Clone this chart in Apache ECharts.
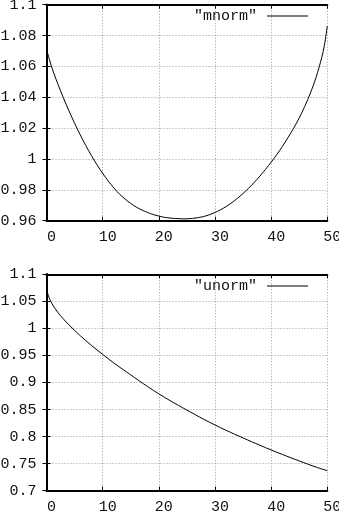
<!DOCTYPE html>
<html>
<head>
<meta charset="utf-8">
<script src="https://cdn.jsdelivr.net/npm/echarts@6/dist/echarts.min.js"></script>
<style>
html,body{margin:0;padding:0;background:#fff;}
#c{width:339px;height:521px;}
</style>
</head>
<body>
<div id="c"></div>
<script>
// Top plot: "mnorm"
var mnormX = [0, 1, 2, 3, 4, 5, 6, 7, 8, 9, 10, 11, 12, 13, 14, 15, 16, 17, 18, 19, 20, 21, 22, 23, 24.5, 26, 28, 30, 32, 34, 36, 38, 40, 42, 44, 45, 46, 47, 48, 49, 49.5, 50];
var mnormY = [1.0710, 1.0588, 1.0488, 1.0397, 1.0312, 1.0232, 1.0157, 1.0087, 1.0022, 0.9962, 0.9907, 0.9857, 0.9812, 0.9772, 0.9740, 0.9712, 0.9688, 0.9669, 0.9653, 0.9640, 0.9630, 0.9622, 0.9617, 0.9614, 0.9612, 0.9615, 0.9627, 0.9653, 0.9692, 0.9745, 0.9811, 0.9889, 0.9979, 1.0081, 1.0199, 1.0266, 1.0342, 1.0428, 1.0529, 1.0656, 1.0740, 1.0862];
// Bottom plot: "unorm"
var unormX = [0, 0.5, 1, 2, 3, 4, 6, 8, 10, 12, 15, 18, 20, 22, 25, 28, 30, 32, 35, 38, 40, 42, 45, 48, 50];
var unormY = [1.072, 1.056, 1.0452, 1.0297, 1.0175, 1.0065, 0.9866, 0.9686, 0.9520, 0.9360, 0.9140, 0.8925, 0.8790, 0.8665, 0.8490, 0.8320, 0.8215, 0.8115, 0.7975, 0.7840, 0.7753, 0.7670, 0.7550, 0.7436, 0.7370];
var xTicks = [0, 10, 20, 30, 40, 50];
var topY = {min: 0.96, max: 1.1, step: 0.02};
var botY = {min: 0.7, max: 1.1, step: 0.05};

function pairs(xs, ys){ return xs.map(function(x,i){ return [x, ys[i]]; }); }

var FONT = 'Liberation Mono';
var FS = 15;
var lbl = {color:'#111', fontFamily: FONT, fontSize: FS};
var gridLine = {show:true, lineStyle:{color:'#9a9a9a', type:[1,2], width:1}};

function xAxisMain(gi){
  return {type:'value', gridIndex: gi, min: xTicks[0], max: xTicks[xTicks.length-1], interval: 10,
    axisLine:{show:true, lineStyle:{color:'#000', width:2}},
    axisTick:{show:true, inside:true, length:4, lineStyle:{color:'#000'}},
    axisLabel:Object.assign({margin:9, padding:[0,0,0,10]}, lbl),
    splitLine:gridLine};
}
function xAxisMirror(gi){
  return {type:'value', gridIndex: gi, position:'top', min: xTicks[0], max: xTicks[xTicks.length-1], interval: 10,
    axisLine:{show:true, lineStyle:{color:'#000', width:2}},
    axisTick:{show:true, inside:true, length:4, lineStyle:{color:'#000'}},
    axisLabel:{show:false}, splitLine:{show:false}};
}
function yAxisMain(gi, r){
  return {type:'value', gridIndex: gi, min: r.min, max: r.max, interval: r.step,
    axisLine:{show:true, lineStyle:{color:'#000', width:2}},
    axisTick:{show:true, inside:true, length:4, lineStyle:{color:'#000'}},
    axisLabel:Object.assign({margin:10}, lbl),
    splitLine:gridLine};
}
function yAxisMirror(gi, r){
  return {type:'value', gridIndex: gi, position:'right', min: r.min, max: r.max, interval: r.step,
    axisLine:{show:true, lineStyle:{color:'#000', width:2}},
    axisTick:{show:true, inside:true, length:4, lineStyle:{color:'#000'}},
    axisLabel:{show:false}, splitLine:{show:false}};
}
function legendFor(name, top){
  return {data:[name], right:31, top:top, padding:0, align:'right', icon:'rect', itemWidth:41, itemHeight:1, itemGap:10,
    textStyle:{color:'#111', fontFamily:FONT, fontSize:FS, padding:[0,5,0,0]}, itemStyle:{color:'#000'}};
}

var chart = echarts.init(document.getElementById('c'), null, {renderer:'canvas'});
chart.setOption({
  backgroundColor:'#fff',
  animation:false,
  grid:[
    {left:46.5, right:11.7, top:4.7, height:216, containLabel:false, outerBoundsMode:'none'},
    {left:46.5, right:11.7, top:274.3, height:216.4, containLabel:false, outerBoundsMode:'none'}
  ],
  legend:[legendFor('"mnorm"', 8.5), legendFor('"unorm"', 278.5)],
  xAxis:[xAxisMain(0), xAxisMirror(0), xAxisMain(1), xAxisMirror(1)],
  yAxis:[yAxisMain(0, topY), yAxisMirror(0, topY), yAxisMain(1, botY), yAxisMirror(1, botY)],
  series:[
    {name:'"mnorm"', type:'line', xAxisIndex:0, yAxisIndex:0, data:pairs(mnormX, mnormY), smooth:0.3,
      symbol:'none', lineStyle:{color:'#000', width:1}, itemStyle:{color:'#000'}},
    {name:'"unorm"', type:'line', xAxisIndex:2, yAxisIndex:2, data:pairs(unormX, unormY), smooth:0.3,
      symbol:'none', lineStyle:{color:'#000', width:1}, itemStyle:{color:'#000'}}
  ]
});
</script>
</body>
</html>
